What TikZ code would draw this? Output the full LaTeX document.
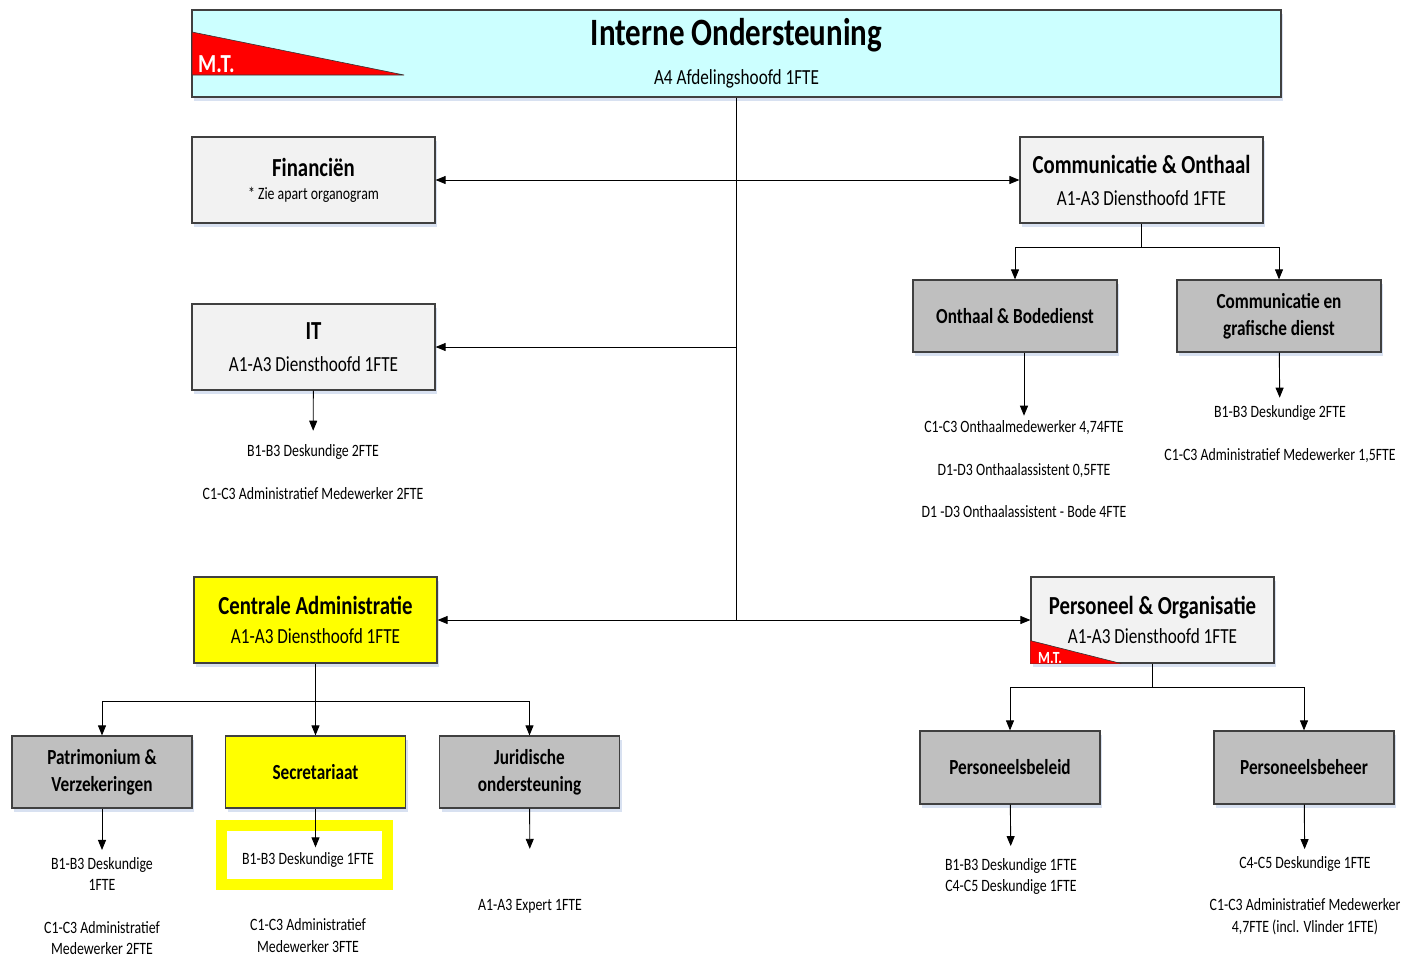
\documentclass[tikz,border=0pt]{standalone}
\usepackage{fontspec}
\setmainfont{Carlito}[FakeStretch=0.8]
\usetikzlibrary{arrows.meta,shadows}

\definecolor{iocyan}{RGB}{204,255,255}
\definecolor{iolight}{RGB}{242,242,242}
\definecolor{iogray}{RGB}{191,191,191}
\definecolor{ioyellow}{RGB}{255,255,0}
\definecolor{iored}{RGB}{255,0,0}
\definecolor{ioshadow}{RGB}{190,205,232}

\newcommand{\ttlfont}{\fontsize{26}{32}\selectfont\bfseries}
\newcommand{\subfont}{\fontsize{21.5}{32}\selectfont}
\newcommand{\teamfont}{\fontsize{21.5}{27}\selectfont\bfseries}
\newcommand{\staffont}{\fontsize{17.3}{21.5}\selectfont}

\begin{document}
\begin{tikzpicture}[x=1pt,y=-1pt,
	dienst/.style={draw=black!75,line width=1.2pt,fill=iolight,minimum width=243pt,minimum height=86pt,inner sep=0pt,align=center,font=\subfont,
		drop shadow={fill=ioshadow,opacity=.6,shadow xshift=2pt,shadow yshift=-4pt}},
	team/.style={dienst,fill=iogray,minimum width=180pt,minimum height=72pt,font=\teamfont},
	staf/.style={inner sep=0pt,align=center,font=\staffont},
	pijl/.style={line width=.9pt,-{Triangle[length=10pt,width=8pt]}},
	tweepijl/.style={line width=.9pt,{Triangle[length=10pt,width=8pt]}-{Triangle[length=10pt,width=8pt]}},
	lijn/.style={line width=.9pt}]
	\useasboundingbox (0,0) rectangle (1403,969);

	% afdeling
	\node[dienst,fill=iocyan,minimum width=1089pt,minimum height=87pt,font=\fontsize{21.5}{38.5}\selectfont] (io) at (736.5,53.5)
		{{\fontsize{38.7}{38.5}\selectfont\bfseries Interne Ondersteuning}\\A4 Afdelingshoofd 1FTE};
	\filldraw[fill=iored,draw=black!80,line width=.6pt] (192,32) -- (404,75) -- (192,75) -- cycle;
	\node[anchor=base west,inner sep=0pt,text=white,font=\fontsize{26}{26}\selectfont\bfseries] (mt) at (198,72) {M.T.};

	% diensten
	\node[dienst] (fin) at (313.5,180) {{\ttlfont Financiën}\\[-9pt]{\staffont * Zie apart organogram}};
	\node[dienst] (co) at (1141.5,180) {{\ttlfont Communicatie \& Onthaal}\\A1-A3 Diensthoofd 1FTE};
	\node[dienst] (it) at (313.5,347) {{\ttlfont IT}\\A1-A3 Diensthoofd 1FTE};
	\node[dienst,fill=ioyellow] (ca) at (315.5,620) {{\ttlfont Centrale Administratie}\\[-3pt]A1-A3 Diensthoofd 1FTE};
	\node[dienst] (po) at (1152.5,620) {{\ttlfont Personeel \& Organisatie}\\[-3pt]A1-A3 Diensthoofd 1FTE};

	% M.T. bij P&O
	\begin{scope}
		\clip (po.south west) -- ([yshift=23pt]po.south west) -- ([xshift=91pt]po.south west) -- cycle;
		\fill[iored] (po.south west) -- ([yshift=23pt]po.south west) -- ([xshift=91pt]po.south west) -- cycle;
		\node[anchor=base west,inner sep=0pt,text=white,font=\fontsize{17}{17}\selectfont\bfseries] (mtpo) at (1038,663) {M.T.};
	\end{scope}
	\draw[black!80,line width=.6pt] ([yshift=23pt]po.south west) -- ([xshift=91pt]po.south west);

	% teams
	\node[team,minimum width=204pt] (ob) at (1015,316) {Onthaal \& Bodedienst};
	\node[team,minimum width=204pt] (cg) at (1279,316) {Communicatie en\\grafische dienst};
	\node[team] (pv) at (102,772) {Patrimonium \&\\Verzekeringen};
	\node[team,fill=ioyellow] (sec) at (315.5,772) {Secretariaat};
	\node[team] (jur) at (529.5,772) {Juridische\\ondersteuning};
	\node[team,minimum height=73pt] (pb) at (1010,767.5) {Personeelsbeleid};
	\node[team,minimum height=73pt] (ph) at (1304,767.5) {Personeelsbeheer};

	% medewerkers
	\node[staf] (it1) at (313,472.5) {B1-B3 Deskundige 2FTE\\[21.5pt]C1-C3 Administratief Medewerker 2FTE};
	\node[staf] (ob1) at (1024,469.5) {C1-C3 Onthaalmedewerker 4,74FTE\\[21pt]D1-D3 Onthaalassistent 0,5FTE\\[21pt]D1 -D3 Onthaalassistent - Bode 4FTE};
	\node[staf] (cg1) at (1280,434.5) {B1-B3 Deskundige 2FTE\\[21.5pt]C1-C3 Administratief Medewerker 1,5FTE};
	\node[staf] (pv1) at (102,906) {B1-B3 Deskundige\\1FTE\\[21pt]C1-C3 Administratief\\Medewerker 2FTE};
	\node[draw=ioyellow,line width=11pt,fill=white,minimum width=166pt,minimum height=59pt] (kader) at (304.5,855) {};
	\node[staf] (sec1) at (308,860) {B1-B3 Deskundige 1FTE};
	\node[staf] (sec2) at (308,935.5) {C1-C3 Administratief\\Medewerker 3FTE};
	\node[staf] (jur1) at (530,906) {A1-A3 Expert 1FTE};
	\node[staf] (pb1) at (1011,876.5) {B1-B3 Deskundige 1FTE\\C4-C5 Deskundige 1FTE};
	\node[staf] (ph1) at (1305,895.5) {C4-C5 Deskundige 1FTE\\[21pt]C1-C3 Administratief Medewerker\\4,7FTE (incl. Vlinder 1FTE)};

	% stam
	\draw[lijn] (io.south) -- (io.south |- ca) coordinate (stam);
	\draw[tweepijl] (fin) -- (co);
	\draw[pijl] (io.south |- it) -- (it);
	\draw[tweepijl] (ca) -- (po);

	% vertakkingen
	\draw[lijn] (co.south) -- ++(0,24) coordinate (cosplit);
	\draw[pijl] (cosplit) -| (ob.north);
	\draw[pijl] (cosplit) -| (cg.north);
	\draw[lijn] (ca.south) -- ++(0,38) coordinate (casplit);
	\draw[pijl] (casplit) -| (pv.north);
	\draw[pijl] (casplit) -- (sec.north);
	\draw[pijl] (casplit) -| (jur.north);
	\draw[lijn] (po.south) -- ++(0,24) coordinate (posplit);
	\draw[pijl] (posplit) -| (pb.north);
	\draw[pijl] (posplit) -| (ph.north);

	% naar medewerkers
	\draw[pijl,shorten >=14pt] (it) -- (it1);
	\draw[pijl,shorten >=5pt] (ob1.north |- ob.south) -- (ob1.north);
	\draw[pijl,shorten >=8pt] (cg) -- (cg1);
	\draw[pijl,shorten >=7pt] (pv) -- (pv1);
	\draw[pijl,shorten >=5pt] (sec.south) -- (sec.south |- sec1.north);
	\draw[pijl,shorten >=50pt] (jur) -- (jur1);
	\draw[pijl,shorten >=12pt] (pb) -- (pb1);
	\draw[pijl,shorten >=7pt] (ph) -- (ph1);
\end{tikzpicture}
\end{document}
